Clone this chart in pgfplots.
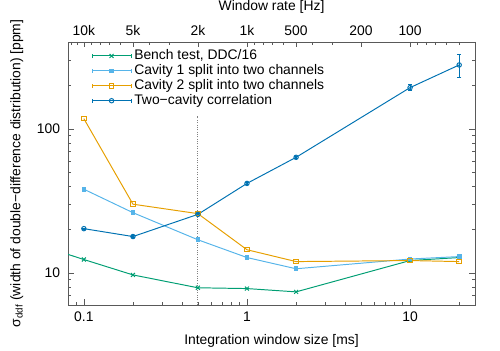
\documentclass[border=0pt]{standalone}
\usepackage{fontspec}
\setmainfont{Liberation Sans}
\usepackage{pgfplots}
\pgfplotsset{compat=1.18}
\definecolor{cbench}{RGB}{0,158,115}
\definecolor{ccavone}{RGB}{86,180,233}
\definecolor{ccavtwo}{RGB}{230,159,0}
\definecolor{ctwo}{RGB}{0,114,178}

\begin{document}
\begin{tikzpicture}
\begin{axis}[
  name=main,
  width=293pt, height=189.4pt, scale only axis,
  xmode=log, ymode=log,
  xmin=0.08, xmax=25, ymin=6, ymax=400,
  /pgf/number format/assume math mode=true,
  axis line style={black!65}, tick style={black!65},
  major tick length=4pt, minor tick length=2pt,
  tick label style={font=\fontsize{10}{12}\selectfont},
  label style={font=\fontsize{10}{12}\selectfont},
  xticklabel style={yshift=-1.4pt},
  yticklabel style={xshift=-2.2pt},
  xlabel style={yshift=-2pt},
  ylabel style={yshift=3pt},
  xtick pos=bottom,
  xtick={0.1,1,10}, xticklabels={0.1,1,10},
  minor xtick={0.09,0.2,0.3,0.4,0.5,0.6,0.7,0.8,0.9,2,3,4,5,6,7,8,9,20},
  ytick={10,100}, yticklabels={10,100},
  minor ytick={6,7,8,9,20,30,40,50,60,70,80,90,200,300,400},
  xlabel={Integration window size [ms]},
  ylabel={σ\textsubscript{ddf} (width of double−difference distribution) [ppm]},
  legend cell align=left,
  legend style={at={(0.047,0.992)}, anchor=north west, draw=none, fill=none,
    font=\fontsize{10}{10}\selectfont, row sep=-2pt},
  legend image code/.code={
    \draw[#1] (0pt,0pt) -- (28pt,0pt);
    \draw[#1] (0pt,-1.5pt) -- (0pt,1.5pt);
    \draw[#1] (28pt,-1.5pt) -- (28pt,1.5pt);
    \draw[#1,mark repeat=2,mark phase=2] plot coordinates {(0pt,0pt) (14pt,0pt) (28pt,0pt)};
  },
  every axis plot/.append style={line width=0.7pt},
]
\addplot[gray, densely dotted, line width=0.6pt, forget plot] coordinates {(0.5,6) (0.5,123)};

\addplot[cbench, mark=x, mark size=2pt] coordinates {
  (0.05,16) (0.1,12.4) (0.2,9.7) (0.5,7.9) (1,7.8) (2,7.4) (10,12.2) (20,12.8)
};
\addlegendentry{Bench test, DDC/16}

\addplot[ccavone, mark=square*, mark size=1.3pt] coordinates {
  (0.1,38.1) (0.2,26.2) (0.5,17.0) (1,12.8) (2,10.7) (10,12.5) (20,13.0)
};
\addlegendentry{Cavity 1 split into two channels}

\addplot[ccavtwo, mark=square, mark size=1.6pt] coordinates {
  (0.1,117.5) (0.2,30.0) (0.5,25.8) (1,14.5) (2,12.0) (10,12.2) (20,12.0)
};
\addlegendentry{Cavity 2 split into two channels}

\addplot[ctwo, mark=o, mark size=1.6pt,
  error bars/.cd, y dir=both, y explicit,
  error mark options={rotate=90, mark size=1.5pt, line width=0.7pt}] coordinates {
  (0.1,20.3) +- (0,0.2)
  (0.2,17.9) +- (0,0.2)
  (0.5,25.5) +- (0,0.3)
  (1,41.8) +- (0,0.6)
  (2,63.4) +- (0,1.2)
  (10,193) +- (0,9)
  (20,277) +- (0,50)
};
\addlegendentry{Two−cavity correlation}
\end{axis}

\begin{axis}[
  width=293pt, height=189.4pt, scale only axis,
  xmode=log, ymode=log,
  xmin=0.08, xmax=25, ymin=6, ymax=400,
  /pgf/number format/assume math mode=true,
  axis line style={black!65}, tick style={black!65},
  major tick length=4pt, minor tick length=2pt,
  tick label style={font=\fontsize{10}{12}\selectfont},
  label style={font=\fontsize{10}{12}\selectfont},
  xticklabel style={yshift=1pt},
  xlabel style={yshift=1.5pt},
  axis x line*=top, axis y line=none,
  xtick={0.1,0.2,0.5,1,2,5,10},
  xticklabels={10k,5k,2k,1k,500,200,100},
  minor xtick={0.0833,0.0909,0.111,0.125,0.1429,0.1667,0.25,0.3333,1.111,1.25,1.4286,1.6667,2.5,3.333,11.11,12.5,14.29,16.67,20,25},
  xlabel={Window rate [Hz]},
]
\addplot[draw=none] coordinates {(1,10)};
\end{axis}
\pgfresetboundingbox
\path ([xshift=-49pt,yshift=-32.4pt]main.south west) rectangle ([xshift=18pt,yshift=30.2pt]main.north east);
\end{tikzpicture}
\end{document}
